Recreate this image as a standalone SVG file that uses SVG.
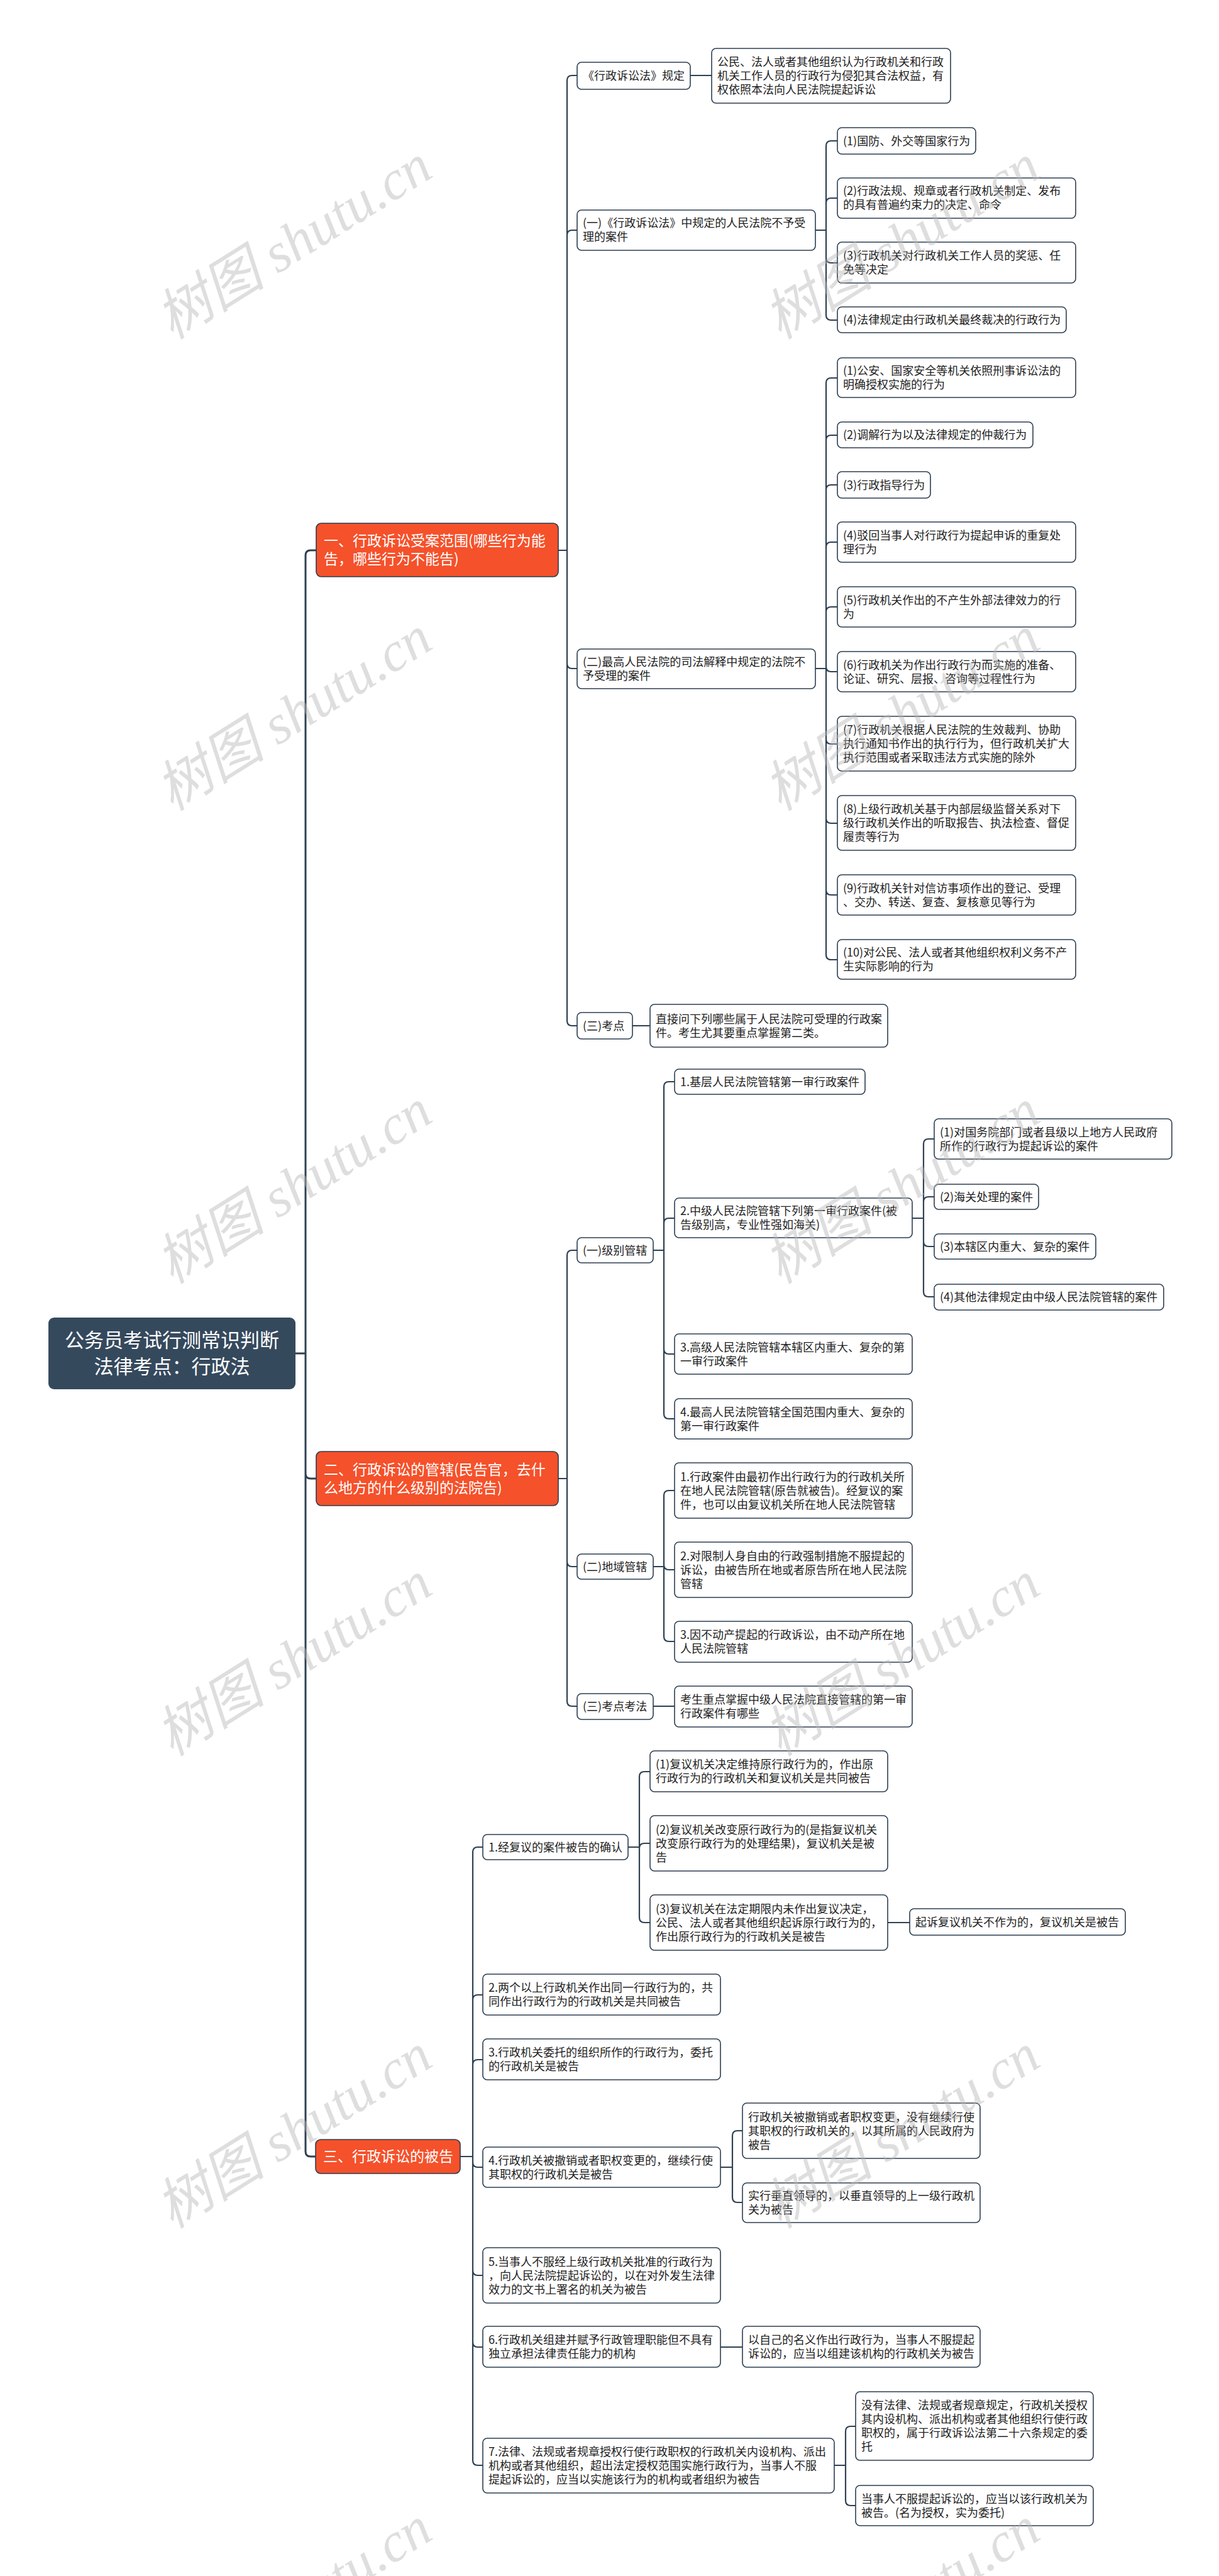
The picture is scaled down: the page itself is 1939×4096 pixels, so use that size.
<svg xmlns="http://www.w3.org/2000/svg" width="1939" height="4096" viewBox="0 0 1939 4096">
<style>
.bg{fill:#ffffff}
.n rect{fill:#ffffff;stroke:#2c3e50;stroke-width:1.6}
.n text{font-family:"Noto Sans CJK SC","Noto Sans",sans-serif;font-size:18px;fill:#222}
.l1 rect{fill:#f5512b;stroke:#2c3e50;stroke-width:1.6}
.l1 text{font-family:"Noto Sans CJK SC","Noto Sans",sans-serif;font-size:23px;fill:#ffffff}
.root rect{fill:#35495d;stroke:none}
.root text{font-family:"Noto Sans CJK SC","Noto Sans",sans-serif;font-size:31px;fill:#ffffff;text-anchor:middle}
.c path{fill:none;stroke:#2f4052;stroke-width:2.2;stroke-linecap:round}
.c path.main{stroke-width:3}
.wm text{font-family:"Liberation Serif","Noto Sans CJK SC",serif;font-style:italic;font-size:88px;fill:#b8b8b8;opacity:0.45;text-anchor:middle}
</style>
<rect class="bg" x="0" y="0" width="1939" height="4096"/>

<g id="connectors" class="c">
<path class="main" d="M470,2152 H486 M486,2152 V883 Q486,875 494,875 H503 M486,2152 V2343 Q486,2351 494,2351 H503 M486,2152 V3421 Q486,3429 494,3429 H502"/>
<path d="M888,875 H902 M902,875 V128 Q902,120 910,120 H918 M902,875 V374 Q902,366 910,366 H918 M902,875 V1055 Q902,1063 910,1063 H918 M902,875 V1623 Q902,1631 910,1631 H918"/>
<path d="M888,2351 H902 M902,2351 V1996 Q902,1988 910,1988 H918 M902,2351 V2483 Q902,2491 910,2491 H918 M902,2351 V2705 Q902,2713 910,2713 H918"/>
<path d="M732,3429 H752 M752,3429 V2945 Q752,2937 760,2937 H768 M752,3429 V3180 Q752,3172 760,3172 H768 M752,3429 V3283 Q752,3275 760,3275 H768 M752,3429 V3438 Q752,3446 760,3446 H768 M752,3429 V3610 Q752,3618 760,3618 H768 M752,3429 V3724 Q752,3732 760,3732 H768 M752,3429 V3912 Q752,3920 760,3920 H768"/>
<path d="M1098,120 H1132"/>
<path d="M1297,366 H1314 M1314,366 V232 Q1314,224 1322,224 H1332 M1314,366 V323 Q1314,315 1322,315 H1332 M1314,366 V410 Q1314,418 1322,418 H1332 M1314,366 V501 Q1314,509 1322,509 H1332"/>
<path d="M1297,1063 H1314 M1314,1063 V609 Q1314,601 1322,601 H1332 M1314,1063 V700 Q1314,692 1322,692 H1332 M1314,1063 V779 Q1314,771 1322,771 H1332 M1314,1063 V870 Q1314,862 1322,862 H1332 M1314,1063 V973 Q1314,965 1322,965 H1332 M1314,1063 V1060 Q1314,1068 1322,1068 H1332 M1314,1063 V1175 Q1314,1183 1322,1183 H1332 M1314,1063 V1301 Q1314,1309 1322,1309 H1332 M1314,1063 V1415 Q1314,1423 1322,1423 H1332 M1314,1063 V1518 Q1314,1526 1322,1526 H1332"/>
<path d="M1006,1631 H1034"/>
<path d="M1039,1988 H1056 M1056,1988 V1728 Q1056,1720 1064,1720 H1073 M1056,1988 V1945 Q1056,1937 1064,1937 H1073 M1056,1988 V2145 Q1056,2153 1064,2153 H1073 M1056,1988 V2248 Q1056,2256 1064,2256 H1073"/>
<path d="M1451,1937 H1469 M1469,1937 V1819 Q1469,1811 1477,1811 H1486 M1469,1937 V1911 Q1469,1903 1477,1903 H1486 M1469,1937 V1974 Q1469,1982 1477,1982 H1486 M1469,1937 V2054 Q1469,2062 1477,2062 H1486"/>
<path d="M1039,2491 H1056 M1056,2491 V2378 Q1056,2370 1064,2370 H1073 M1056,2491 V2488 Q1056,2496 1064,2496 H1073 M1056,2491 V2602 Q1056,2610 1064,2610 H1073"/>
<path d="M1039,2713 H1073"/>
<path d="M999,2937 H1017 M1017,2937 V2825 Q1017,2817 1025,2817 H1034 M1017,2937 V2939 Q1017,2931 1025,2931 H1034 M1017,2937 V3049 Q1017,3057 1025,3057 H1034"/>
<path d="M1412,3057 H1447"/>
<path d="M1146,3446 H1165 M1165,3446 V3396 Q1165,3388 1173,3388 H1181 M1165,3446 V3494 Q1165,3502 1173,3502 H1181"/>
<path d="M1146,3732 H1181"/>
<path d="M1327,3920 H1345 M1345,3920 V3866 Q1345,3858 1353,3858 H1361 M1345,3920 V3976 Q1345,3984 1353,3984 H1361"/>
</g>

<g id="root" class="root"><rect x="77" y="2095" width="393" height="114" rx="9"/><text x="273.5" y="2142">公务员考试行测常识判断</text><text x="273.5" y="2184">法律考点：行政法</text></g>

<g id="n1" class="l1"><rect x="503" y="832" width="385" height="85" rx="8"/><text x="515" y="868">一、行政诉讼受案范围(哪些行为能</text><text x="515" y="897">告，哪些行为不能告)</text></g>
<g id="n2" class="l1"><rect x="503" y="2308" width="385" height="86" rx="8"/><text x="515" y="2344.5">二、行政诉讼的管辖(民告官，去什</text><text x="515" y="2373.5">么地方的什么级别的法院告)</text></g>
<g id="n3" class="l1"><rect x="502" y="3402" width="230" height="54" rx="8"/><text x="514" y="3437">三、行政诉讼的被告</text></g>

<g id="a" class="n"><rect x="918" y="99" width="180" height="43" rx="7"/><text x="927" y="127">《行政诉讼法》规定</text></g>
<g id="a1" class="n"><rect x="1132" y="77" width="380" height="87" rx="7"/><text x="1141" y="105">公民、法人或者其他组织认为行政机关和行政</text><text x="1141" y="127">机关工作人员的行政行为侵犯其合法权益，有</text><text x="1141" y="149">权依照本法向人民法院提起诉讼</text></g>
<g id="b" class="n"><rect x="918" y="334" width="379" height="64" rx="7"/><text x="927" y="361">(一)《行政诉讼法》中规定的人民法院不予受</text><text x="927" y="383">理的案件</text></g>
<g id="b1" class="n"><rect x="1332" y="203" width="220" height="42" rx="7"/><text x="1341" y="231">(1)国防、外交等国家行为</text></g>
<g id="b2" class="n"><rect x="1332" y="283" width="379" height="64" rx="7"/><text x="1341" y="310">(2)行政法规、规章或者行政机关制定、发布</text><text x="1341" y="332">的具有普遍约束力的决定、命令</text></g>
<g id="b3" class="n"><rect x="1332" y="385" width="379" height="65" rx="7"/><text x="1341" y="413">(3)行政机关对行政机关工作人员的奖惩、任</text><text x="1341" y="435">免等决定</text></g>
<g id="b4" class="n"><rect x="1332" y="488" width="364" height="41" rx="7"/><text x="1341" y="515">(4)法律规定由行政机关最终裁决的行政行为</text></g>
<g id="c" class="n"><rect x="918" y="1032" width="379" height="63" rx="7"/><text x="927" y="1059">(二)最高人民法院的司法解释中规定的法院不</text><text x="927" y="1081">予受理的案件</text></g>
<g id="c1" class="n"><rect x="1332" y="569" width="379" height="63" rx="7"/><text x="1341" y="596">(1)公安、国家安全等机关依照刑事诉讼法的</text><text x="1341" y="618">明确授权实施的行为</text></g>
<g id="c2" class="n"><rect x="1332" y="671" width="311" height="41" rx="7"/><text x="1341" y="698">(2)调解行为以及法律规定的仲裁行为</text></g>
<g id="c3" class="n"><rect x="1332" y="750" width="148" height="42" rx="7"/><text x="1341" y="777.5">(3)行政指导行为</text></g>
<g id="c4" class="n"><rect x="1332" y="830" width="379" height="64" rx="7"/><text x="1341" y="857.5">(4)驳回当事人对行政行为提起申诉的重复处</text><text x="1341" y="879.5">理行为</text></g>
<g id="c5" class="n"><rect x="1332" y="933" width="379" height="64" rx="7"/><text x="1341" y="960.5">(5)行政机关作出的不产生外部法律效力的行</text><text x="1341" y="982.5">为</text></g>
<g id="c6" class="n"><rect x="1332" y="1036" width="379" height="64" rx="7"/><text x="1341" y="1063.5">(6)行政机关为作出行政行为而实施的准备、</text><text x="1341" y="1085.5">论证、研究、层报、咨询等过程性行为</text></g>
<g id="c7" class="n"><rect x="1332" y="1139" width="379" height="87" rx="7"/><text x="1341" y="1167">(7)行政机关根据人民法院的生效裁判、协助</text><text x="1341" y="1189">执行通知书作出的执行行为，但行政机关扩大</text><text x="1341" y="1211">执行范围或者采取违法方式实施的除外</text></g>
<g id="c8" class="n"><rect x="1332" y="1265" width="379" height="87" rx="7"/><text x="1341" y="1293">(8)上级行政机关基于内部层级监督关系对下</text><text x="1341" y="1315">级行政机关作出的听取报告、执法检查、督促</text><text x="1341" y="1337">履责等行为</text></g>
<g id="c9" class="n"><rect x="1332" y="1391" width="379" height="64" rx="7"/><text x="1341" y="1418.5">(9)行政机关针对信访事项作出的登记、受理</text><text x="1341" y="1440.5">、交办、转送、复查、复核意见等行为</text></g>
<g id="c10" class="n"><rect x="1332" y="1494" width="379" height="63" rx="7"/><text x="1341" y="1521">(10)对公民、法人或者其他组织权利义务不产</text><text x="1341" y="1543">生实际影响的行为</text></g>
<g id="d" class="n"><rect x="918" y="1610" width="88" height="42" rx="7"/><text x="927" y="1637.5">(三)考点</text></g>
<g id="d1" class="n"><rect x="1034" y="1597" width="378" height="68" rx="7"/><text x="1043" y="1626.5">直接问下列哪些属于人民法院可受理的行政案</text><text x="1043" y="1648.5">件。考生尤其要重点掌握第二类。</text></g>

<g id="e" class="n"><rect x="918" y="1968" width="121" height="40" rx="7"/><text x="927" y="1994.5">(一)级别管辖</text></g>
<g id="e1" class="n"><rect x="1073" y="1700" width="303" height="40" rx="7"/><text x="1082" y="1726.5">1.基层人民法院管辖第一审行政案件</text></g>
<g id="e2" class="n"><rect x="1073" y="1905" width="378" height="63" rx="7"/><text x="1082" y="1932">2.中级人民法院管辖下列第一审行政案件(被</text><text x="1082" y="1954">告级别高，专业性强如海关)</text></g>
<g id="e2a" class="n"><rect x="1486" y="1779" width="378" height="64" rx="7"/><text x="1495" y="1806.5">(1)对国务院部门或者县级以上地方人民政府</text><text x="1495" y="1828.5">所作的行政行为提起诉讼的案件</text></g>
<g id="e2b" class="n"><rect x="1486" y="1883" width="166" height="40" rx="7"/><text x="1495" y="1909.5">(2)海关处理的案件</text></g>
<g id="e2c" class="n"><rect x="1486" y="1962" width="257" height="40" rx="7"/><text x="1495" y="1988.5">(3)本辖区内重大、复杂的案件</text></g>
<g id="e2d" class="n"><rect x="1486" y="2042" width="365" height="41" rx="7"/><text x="1495" y="2069">(4)其他法律规定由中级人民法院管辖的案件</text></g>
<g id="e3" class="n"><rect x="1073" y="2121" width="378" height="64" rx="7"/><text x="1082" y="2148.5">3.高级人民法院管辖本辖区内重大、复杂的第</text><text x="1082" y="2170.5">一审行政案件</text></g>
<g id="e4" class="n"><rect x="1073" y="2224" width="378" height="64" rx="7"/><text x="1082" y="2251.5">4.最高人民法院管辖全国范围内重大、复杂的</text><text x="1082" y="2273.5">第一审行政案件</text></g>
<g id="f" class="n"><rect x="918" y="2471" width="121" height="40" rx="7"/><text x="927" y="2497.5">(二)地域管辖</text></g>
<g id="f1" class="n"><rect x="1073" y="2326" width="378" height="88" rx="7"/><text x="1082" y="2354.5">1.行政案件由最初作出行政行为的行政机关所</text><text x="1082" y="2376.5">在地人民法院管辖(原告就被告)。经复议的案</text><text x="1082" y="2398.5">件，也可以由复议机关所在地人民法院管辖</text></g>
<g id="f2" class="n"><rect x="1073" y="2452" width="378" height="88" rx="7"/><text x="1082" y="2480.5">2.对限制人身自由的行政强制措施不服提起的</text><text x="1082" y="2502.5">诉讼，由被告所在地或者原告所在地人民法院</text><text x="1082" y="2524.5">管辖</text></g>
<g id="f3" class="n"><rect x="1073" y="2578" width="378" height="65" rx="7"/><text x="1082" y="2606">3.因不动产提起的行政诉讼，由不动产所在地</text><text x="1082" y="2628">人民法院管辖</text></g>
<g id="g" class="n"><rect x="918" y="2693" width="121" height="41" rx="7"/><text x="927" y="2720">(三)考点考法</text></g>
<g id="g1" class="n"><rect x="1073" y="2681" width="378" height="65" rx="7"/><text x="1082" y="2709">考生重点掌握中级人民法院直接管辖的第一审</text><text x="1082" y="2731">行政案件有哪些</text></g>

<g id="h1" class="n"><rect x="768" y="2917" width="231" height="40" rx="7"/><text x="777" y="2943.5">1.经复议的案件被告的确认</text></g>
<g id="h1a" class="n"><rect x="1034" y="2784" width="378" height="65" rx="7"/><text x="1043" y="2812">(1)复议机关决定维持原行政行为的，作出原</text><text x="1043" y="2834">行政行为的行政机关和复议机关是共同被告</text></g>
<g id="h1b" class="n"><rect x="1034" y="2887" width="378" height="88" rx="7"/><text x="1043" y="2915.5">(2)复议机关改变原行政行为的(是指复议机关</text><text x="1043" y="2937.5">改变原行政行为的处理结果)，复议机关是被</text><text x="1043" y="2959.5">告</text></g>
<g id="h1c" class="n"><rect x="1034" y="3013" width="378" height="88" rx="7"/><text x="1043" y="3041.5">(3)复议机关在法定期限内未作出复议决定，</text><text x="1043" y="3063.5">公民、法人或者其他组织起诉原行政行为的，</text><text x="1043" y="3085.5">作出原行政行为的行政机关是被告</text></g>
<g id="h1c1" class="n"><rect x="1447" y="3035" width="343" height="42" rx="7"/><text x="1456" y="3062.5">起诉复议机关不作为的，复议机关是被告</text></g>
<g id="h2" class="n"><rect x="768" y="3139" width="378" height="65" rx="7"/><text x="777" y="3167">2.两个以上行政机关作出同一行政行为的，共</text><text x="777" y="3189">同作出行政行为的行政机关是共同被告</text></g>
<g id="h3" class="n"><rect x="768" y="3242" width="378" height="65" rx="7"/><text x="777" y="3270">3.行政机关委托的组织所作的行政行为，委托</text><text x="777" y="3292">的行政机关是被告</text></g>
<g id="h4" class="n"><rect x="768" y="3414" width="378" height="64" rx="7"/><text x="777" y="3441.5">4.行政机关被撤销或者职权变更的，继续行使</text><text x="777" y="3463.5">其职权的行政机关是被告</text></g>
<g id="h4a" class="n"><rect x="1181" y="3344" width="378" height="88" rx="7"/><text x="1190" y="3372.5">行政机关被撤销或者职权变更，没有继续行使</text><text x="1190" y="3394.5">其职权的行政机关的，以其所属的人民政府为</text><text x="1190" y="3416.5">被告</text></g>
<g id="h4b" class="n"><rect x="1181" y="3471" width="378" height="63" rx="7"/><text x="1190" y="3498">实行垂直领导的，以垂直领导的上一级行政机</text><text x="1190" y="3520">关为被告</text></g>
<g id="h5" class="n"><rect x="768" y="3574" width="378" height="88" rx="7"/><text x="777" y="3602.5">5.当事人不服经上级行政机关批准的行政行为</text><text x="777" y="3624.5">，向人民法院提起诉讼的，以在对外发生法律</text><text x="777" y="3646.5">效力的文书上署名的机关为被告</text></g>
<g id="h6" class="n"><rect x="768" y="3699" width="378" height="65" rx="7"/><text x="777" y="3727">6.行政机关组建并赋予行政管理职能但不具有</text><text x="777" y="3749">独立承担法律责任能力的机构</text></g>
<g id="h6a" class="n"><rect x="1181" y="3699" width="378" height="65" rx="7"/><text x="1190" y="3727">以自己的名义作出行政行为，当事人不服提起</text><text x="1190" y="3749">诉讼的，应当以组建该机构的行政机关为被告</text></g>
<g id="h7" class="n"><rect x="768" y="3877" width="559" height="87" rx="7"/><text x="777" y="3905">7.法律、法规或者规章授权行使行政职权的行政机关内设机构、派出</text><text x="777" y="3927">机构或者其他组织，超出法定授权范围实施行政行为，当事人不服</text><text x="777" y="3949">提起诉讼的，应当以实施该行为的机构或者组织为被告</text></g>
<g id="h7a" class="n"><rect x="1361" y="3803" width="378" height="109" rx="7"/><text x="1370" y="3831">没有法律、法规或者规章规定，行政机关授权</text><text x="1370" y="3853">其内设机构、派出机构或者其他组织行使行政</text><text x="1370" y="3875">职权的，属于行政诉讼法第二十六条规定的委</text><text x="1370" y="3897">托</text></g>
<g id="h7b" class="n"><rect x="1361" y="3952" width="378" height="64" rx="7"/><text x="1370" y="3979.5">当事人不服提起诉讼的，应当以该行政机关为</text><text x="1370" y="4001.5">被告。(名为授权，实为委托)</text></g>

<g id="watermarks" class="wm">
<text transform="translate(483,410) rotate(-32)">树图 shutu.cn</text>
<text transform="translate(1450,410) rotate(-32)">树图 shutu.cn</text>
<text transform="translate(483,1160) rotate(-32)">树图 shutu.cn</text>
<text transform="translate(1450,1160) rotate(-32)">树图 shutu.cn</text>
<text transform="translate(483,1912) rotate(-32)">树图 shutu.cn</text>
<text transform="translate(1450,1912) rotate(-32)">树图 shutu.cn</text>
<text transform="translate(483,2663) rotate(-32)">树图 shutu.cn</text>
<text transform="translate(1450,2663) rotate(-32)">树图 shutu.cn</text>
<text transform="translate(483,3414) rotate(-32)">树图 shutu.cn</text>
<text transform="translate(1450,3414) rotate(-32)">树图 shutu.cn</text>
<text transform="translate(483,4166) rotate(-32)">树图 shutu.cn</text>
<text transform="translate(1450,4166) rotate(-32)">树图 shutu.cn</text>
</g>
</svg>
